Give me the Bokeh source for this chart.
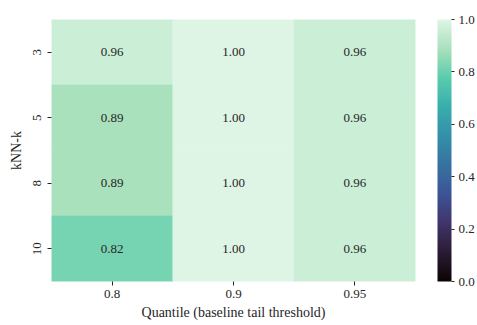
from bokeh.plotting import figure
from bokeh.models import (ColumnDataSource, LinearColorMapper, ColorBar,
                          FixedTicker, PrintfTickFormatter)
from bokeh.transform import transform
from bokeh.core.properties import value
from bokeh.embed import file_html
from bokeh.resources import INLINE

# Grid of detection scores: kNN-k (rows) x quantile threshold (columns)
quantiles = ["0.8", "0.9", "0.95"]
knn_k = ["3", "5", "8", "10"]
scores = [
    [0.96, 1.00, 0.96],   # k = 3
    [0.89, 1.00, 0.96],   # k = 5
    [0.89, 1.00, 0.96],   # k = 8
    [0.82, 1.00, 0.96],   # k = 10
]

# "mako" colour ramp anchors, expanded to a smooth palette
mako_anchors = ["#0B0405", "#2B1C35", "#413469", "#3C5496", "#3573A1",
                "#3490A9", "#38AEAD", "#5ACCAD", "#A8E1BC", "#DEF5E5"]


def hex_to_rgb(h):
    h = h.lstrip("#")
    return tuple(int(h[i:i + 2], 16) for i in (0, 2, 4))


def build_palette(anchors, n=256):
    rgb = [hex_to_rgb(a) for a in anchors]
    out = []
    segs = len(rgb) - 1
    for i in range(n):
        t = i / (n - 1) * segs
        j = min(int(t), segs - 1)
        f = t - j
        c = tuple(round(rgb[j][k] + (rgb[j + 1][k] - rgb[j][k]) * f) for k in range(3))
        out.append("#%02x%02x%02x" % c)
    return out


palette = build_palette(mako_anchors)

xs, ys, vals, labels = [], [], [], []
for r, k in enumerate(knn_k):
    for c, q in enumerate(quantiles):
        xs.append(q)
        ys.append(k)
        vals.append(scores[r][c])
        labels.append("%.2f" % scores[r][c])

src = ColumnDataSource(dict(x=xs, y=ys, v=vals, label=labels))

FONT = "Liberation Serif"
TXT = "#262626"

mapper = LinearColorMapper(palette=palette, low=0.0, high=1.0)

p = figure(width=477, height=325, x_range=quantiles, y_range=list(reversed(knn_k)),
           output_backend="svg", toolbar_location=None, tools="",
           min_border_left=51, min_border_top=19, min_border_bottom=44,
           min_border_right=62)
p.outline_line_color = None
p.grid.visible = False

# cells: outline in the fill colour so neighbouring cells join without seams
p.rect(x="x", y="y", width=1, height=1, source=src,
       fill_color=transform("v", mapper), line_color=transform("v", mapper),
       line_width=0.6)
p.text(x="x", y="y", text="label", source=src, text_align="center",
       text_baseline="middle", text_font=value(FONT), text_font_size="13px",
       text_color=TXT)

for ax in (p.xaxis, p.yaxis):
    ax.axis_line_color = None
    ax.major_tick_line_color = TXT
    ax.major_tick_out = 4
    ax.major_tick_in = 0
    ax.minor_tick_line_color = None
    ax.major_label_text_font = FONT
    ax.major_label_text_font_size = "13px"
    ax.major_label_text_color = TXT
    ax.axis_label_text_font = FONT
    ax.axis_label_text_font_size = "14px"
    ax.axis_label_text_font_style = "normal"
    ax.axis_label_text_color = TXT
    ax.major_label_standoff = 4
    ax.axis_label_standoff = 4

p.xaxis.axis_label = "Quantile (baseline tail threshold)"
p.yaxis.axis_label = "kNN-k"
p.yaxis.major_label_orientation = "vertical"
p.yaxis.major_label_standoff = 7
p.yaxis.axis_label_standoff = 6

cb = ColorBar(color_mapper=mapper, width=14, padding=0, location=(22, 0),
              ticker=FixedTicker(ticks=[0.0, 0.2, 0.4, 0.6, 0.8, 1.0]),
              formatter=PrintfTickFormatter(format="%.1f"),
              major_tick_in=0, major_tick_out=3,
              major_tick_line_color=TXT,
              major_label_text_font=FONT, major_label_text_font_size="13px",
              major_label_text_color=TXT, label_standoff=4,
              bar_line_color=None, border_line_color=None,
              background_fill_color=None)
p.add_layout(cb, "right")

open("out.html", "w").write(file_html(p, INLINE))
